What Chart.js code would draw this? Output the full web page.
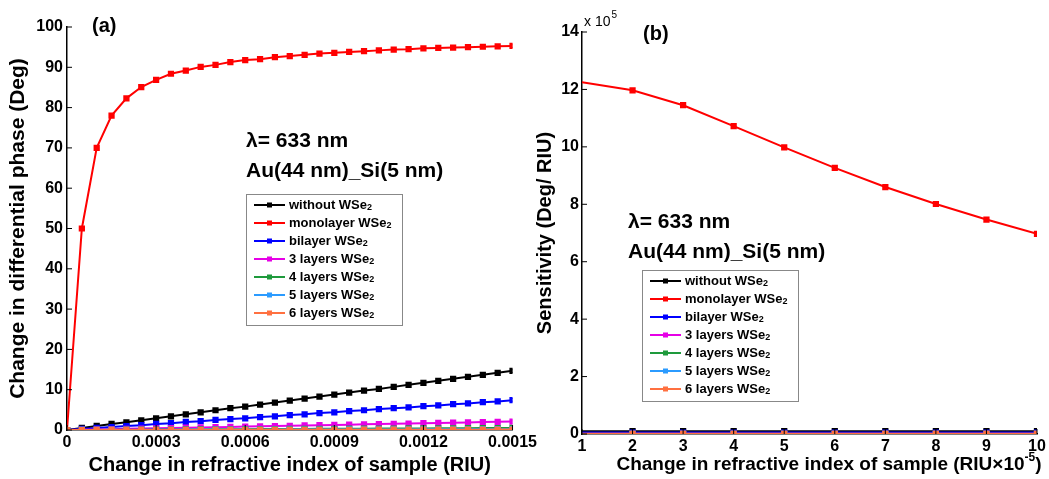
<!DOCTYPE html>
<html>
<head>
<meta charset="utf-8">
<script src="https://cdn.jsdelivr.net/npm/chart.js@4"></script>
<style>
  body { margin: 0; background: #fff; width: 1049px; height: 479px; overflow: hidden; position: relative; }
  .panel { position: absolute; top: 0; height: 479px; }
  #boxA { left: 0; width: 540px; }
  #boxB { left: 520px; width: 529px; }
</style>
</head>
<body>
<div class="panel" id="boxA"><canvas id="phaseChart"></canvas></div>
<div class="panel" id="boxB"><canvas id="sensChart"></canvas></div>
<script>
// ---- data (a): differential phase vs change in RI ----
const deltaN = [0, 0.00005, 0.0001, 0.00015, 0.0002, 0.00025, 0.0003, 0.00035, 0.0004, 0.00045,
  0.0005, 0.00055, 0.0006, 0.00065, 0.0007, 0.00075, 0.0008, 0.00085, 0.0009, 0.00095,
  0.001, 0.00105, 0.0011, 0.00115, 0.0012, 0.00125, 0.0013, 0.00135, 0.0014, 0.00145, 0.0015];

const phaseWithout = [0, 0.5, 1.0, 1.5, 1.9, 2.4, 2.9, 3.4, 3.9, 4.4, 4.9, 5.4, 5.8, 6.3, 6.8, 7.3,
  7.8, 8.3, 8.8, 9.3, 9.8, 10.2, 10.7, 11.2, 11.7, 12.2, 12.7, 13.2, 13.7, 14.2, 14.7];
const phaseMono = [0, 50, 70, 78, 82.3, 85.1, 86.9, 88.4, 89.2, 90.1, 90.6, 91.3, 91.8, 92.0, 92.5, 92.8,
  93.1, 93.4, 93.6, 93.8, 94.0, 94.2, 94.4, 94.5, 94.7, 94.8, 94.9, 95.0, 95.1, 95.2, 95.3];
const phaseBi = [0, 0.25, 0.5, 0.74, 0.98, 1.2, 1.5, 1.7, 2.0, 2.2, 2.5, 2.7, 2.9, 3.2, 3.4, 3.7,
  3.9, 4.2, 4.4, 4.7, 4.9, 5.2, 5.4, 5.6, 5.9, 6.1, 6.4, 6.6, 6.9, 7.1, 7.4];
const phase3 = [0, 0.07, 0.14, 0.21, 0.28, 0.35, 0.42, 0.49, 0.56, 0.63, 0.7, 0.77, 0.84, 0.91, 0.98, 1.05,
  1.12, 1.19, 1.26, 1.33, 1.4, 1.47, 1.54, 1.61, 1.68, 1.75, 1.82, 1.89, 1.96, 2.03, 2.1];
const phase4 = [0, 0.02, 0.03, 0.05, 0.07, 0.08, 0.1, 0.12, 0.13, 0.15, 0.17, 0.18, 0.2, 0.22, 0.23, 0.25,
  0.27, 0.28, 0.3, 0.32, 0.33, 0.35, 0.37, 0.38, 0.4, 0.42, 0.43, 0.45, 0.47, 0.48, 0.5];
const phase5 = [0, 0.01, 0.01, 0.02, 0.03, 0.03, 0.04, 0.05, 0.05, 0.06, 0.07, 0.07, 0.08, 0.09, 0.09, 0.1,
  0.11, 0.11, 0.12, 0.13, 0.13, 0.14, 0.15, 0.15, 0.16, 0.17, 0.17, 0.18, 0.19, 0.19, 0.2];
const phase6 = [0, 0, 0.01, 0.01, 0.01, 0.02, 0.02, 0.02, 0.03, 0.03, 0.03, 0.04, 0.04, 0.04, 0.05, 0.05,
  0.05, 0.06, 0.06, 0.06, 0.07, 0.07, 0.07, 0.08, 0.08, 0.08, 0.09, 0.09, 0.09, 0.1, 0.1];

// ---- data (b): sensitivity (x 10^5 Deg/RIU) vs change in RI (x 10^-5) ----
const deltaNb = [1, 2, 3, 4, 5, 6, 7, 8, 9, 10];
const sensWithout = [0.099, 0.099, 0.098, 0.098, 0.098, 0.098, 0.098, 0.098, 0.098, 0.098];
const sensMono = [12.25, 11.97, 11.45, 10.72, 9.98, 9.27, 8.60, 8.01, 7.47, 6.97];
const sensBi = [0.05, 0.05, 0.05, 0.05, 0.049, 0.049, 0.049, 0.049, 0.049, 0.049];
const sens3 = [0.014, 0.014, 0.014, 0.014, 0.014, 0.014, 0.014, 0.014, 0.014, 0.014];
const sens4 = [0.005, 0.005, 0.005, 0.005, 0.005, 0.005, 0.005, 0.005, 0.005, 0.005];
const sens5 = [0.002, 0.002, 0.002, 0.002, 0.002, 0.002, 0.002, 0.002, 0.002, 0.002];
const sens6 = [0.001, 0.001, 0.001, 0.001, 0.001, 0.001, 0.001, 0.001, 0.001, 0.001];

const seriesNames = ["without WSe2", "monolayer WSe2", "bilayer WSe2", "3 layers WSe2",
  "4 layers WSe2", "5 layers WSe2", "6 layers WSe2"];
const seriesColors = ["#000000", "#ff0000", "#0000ff", "#e600e6", "#1e9a3c", "#2b9bff", "#ff7040"];

const xTicksA = [0, 0.0003, 0.0006, 0.0009, 0.0012, 0.0015];

const FONT = "'Liberation Sans', Arial, sans-serif";

function makeSet(i, xs, ys, skipFirst) {
  return {
    label: seriesNames[i],
    data: xs.map((x, k) => ({ x: x, y: ys[k] })),
    borderColor: seriesColors[i],
    backgroundColor: seriesColors[i],
    borderWidth: 2,
    pointStyle: "rect",
    pointRadius: skipFirst ? (c) => (c.dataIndex === 0 ? 0 : 3) : 3,
    pointHoverRadius: 3,
    tension: 0,
    order: -i,
  };
}

// rich text: list of parts [{text, size, dy}], drawn from x (or centred on x)
function drawParts(c, parts, x, y, centred) {
  let total = 0;
  parts.forEach((p) => {
    c.font = "bold " + p.size + "px " + FONT;
    p.w = c.measureText(p.text).width;
    total += p.w;
  });
  let px = centred ? x - total / 2 : x;
  parts.forEach((p) => {
    c.font = "bold " + p.size + "px " + FONT;
    c.fillText(p.text, px, y + (p.dy || 0));
    px += p.w;
  });
}

// draws inward ticks, text notes and the boxed legend
const panelDecor = {
  id: "panelDecor",
  afterDraw(chart, args, opts) {
    const c = chart.ctx;
    const area = chart.chartArea;
    const xs = chart.scales.x, ys = chart.scales.y;
    c.save();
    c.strokeStyle = "#000";
    c.lineWidth = 1;
    xs.ticks.forEach((t) => {
      const px = xs.getPixelForValue(t.value);
      c.beginPath(); c.moveTo(px, area.bottom); c.lineTo(px, area.bottom - 5); c.stroke();
    });
    ys.ticks.forEach((t) => {
      const py = ys.getPixelForValue(t.value);
      c.beginPath(); c.moveTo(area.left, py); c.lineTo(area.left + 5, py); c.stroke();
    });

    // notes
    c.fillStyle = "#000";
    c.textBaseline = "middle";
    c.textAlign = "left";
    opts.notes.forEach((n) => {
      c.font = (n.weight || "bold") + " " + n.size + "px " + FONT;
      c.fillText(n.text, n.x, n.y);
      if (n.sup) {
        const w = c.measureText(n.text).width;
        c.font = (n.weight || "bold") + " " + Math.round(n.size * 0.7) + "px " + FONT;
        c.fillText(n.sup, n.x + w + 1, n.y - n.size * 0.45);
      }
    });
    if (opts.xTitle) {
      drawParts(c, opts.xTitle.parts, opts.xTitle.cx, opts.xTitle.y, true);
    }

    // legend
    const L = opts.legend;
    c.fillStyle = "#fff";
    c.fillRect(L.x, L.y, L.w, L.h);
    c.strokeStyle = "#888";
    c.strokeRect(L.x + 0.5, L.y + 0.5, L.w, L.h);
    chart.data.datasets.forEach((ds, i) => {
      const yy = L.y + 11 + i * 18;
      c.strokeStyle = ds.borderColor;
      c.lineWidth = 2;
      c.beginPath(); c.moveTo(L.x + 8, yy); c.lineTo(L.x + 39, yy); c.stroke();
      c.fillStyle = ds.borderColor;
      c.fillRect(L.x + 21, yy - 2.5, 5, 5);
      c.fillStyle = "#000";
      let txt = ds.label, sub = "";
      if (txt.endsWith("WSe2")) { txt = txt.slice(0, -1); sub = "2"; }
      drawParts(c, [{ text: txt, size: 13 }, { text: sub, size: 9, dy: 3 }], L.x + 43, yy, false);
    });
    c.restore();
  },
};

function axisTitle(text, size) {
  return { display: true, text: text, color: "#000", font: { family: FONT, size: size, weight: "bold" }, padding: 2 };
}
function tickFont() {
  return { family: FONT, size: 16, weight: "bold" };
}

const chartA = new Chart(document.getElementById("phaseChart").getContext("2d"), {
  type: "line",
  data: {
    datasets: [
      makeSet(0, deltaN, phaseWithout),
      makeSet(1, deltaN, phaseMono),
      makeSet(2, deltaN, phaseBi),
      makeSet(3, deltaN, phase3),
      makeSet(4, deltaN, phase4),
      makeSet(5, deltaN, phase5),
      makeSet(6, deltaN, phase6),
    ],
  },
  options: {
    responsive: true,
    maintainAspectRatio: false,
    animation: false,
    layout: { padding: { top: 27, right: 16, bottom: 0, left: 4 } },
    plugins: {
      legend: { display: false },
      tooltip: { enabled: false },
      panelDecor: {
        notes: [
          { text: "(a)", x: 92, y: 26, size: 20 },
          { text: "λ= 633 nm", x: 246, y: 141, size: 21 },
          { text: "Au(44 nm)_Si(5 nm)", x: 246, y: 171, size: 21 },
        ],
        legend: { x: 246, y: 194, w: 156, h: 131 },
      },
    },
    scales: {
      x: {
        type: "linear",
        min: 0,
        max: 0.0015,
        afterBuildTicks: (s) => { s.ticks = xTicksA.map((v) => ({ value: v })); },
        ticks: {
          color: "#000",
          font: tickFont(),
          padding: 3,
          maxRotation: 0,
          callback: (v) => (v === 0 ? "0" : v.toFixed(4)),
        },
        grid: { display: false, drawTicks: false },
        border: { display: true, color: "#000", width: 1.5 },
        title: axisTitle("Change in refractive index of sample (RIU)", 20),
        afterFit: (s) => { s.height = 49; },
      },
      y: {
        min: 0,
        max: 100,
        ticks: { stepSize: 10, color: "#000", font: tickFont(), padding: 4 },
        grid: { display: false, drawTicks: false },
        border: { display: true, color: "#000", width: 1.5 },
        title: axisTitle("Change in differential phase (Deg)", 21),
        afterFit: (s) => { s.width = 63; },
      },
    },
  },
  plugins: [panelDecor],
});

const chartB = new Chart(document.getElementById("sensChart").getContext("2d"), {
  type: "line",
  data: {
    datasets: [
      makeSet(0, deltaNb, sensWithout, true),
      makeSet(1, deltaNb, sensMono, true),
      makeSet(2, deltaNb, sensBi, true),
      makeSet(3, deltaNb, sens3, true),
      makeSet(4, deltaNb, sens4, true),
      makeSet(5, deltaNb, sens5, true),
      makeSet(6, deltaNb, sens6, true),
    ],
  },
  options: {
    responsive: true,
    maintainAspectRatio: false,
    animation: false,
    layout: { padding: { top: 32, right: 12, bottom: 0, left: 11 } },
    plugins: {
      legend: { display: false },
      tooltip: { enabled: false },
      panelDecor: {
        notes: [
          { text: "x 10", sup: "5", x: 64, y: 22, size: 14, weight: "normal" },
          { text: "(b)", x: 123, y: 34, size: 20 },
          { text: "λ= 633 nm", x: 108, y: 222, size: 21 },
          { text: "Au(44 nm)_Si(5 nm)", x: 108, y: 252, size: 21 },
        ],
        xTitle: {
          cx: 309,
          y: 465,
          parts: [
            { text: "Change in refractive index of sample (RIU×10", size: 19 },
            { text: "-5", size: 12, dy: -7 },
            { text: ")", size: 19 },
          ],
        },
        legend: { x: 122, y: 270, w: 156, h: 131 },
      },
    },
    scales: {
      x: {
        type: "linear",
        min: 1,
        max: 10,
        ticks: { stepSize: 1, color: "#000", font: tickFont(), padding: 3, maxRotation: 0 },
        grid: { display: false, drawTicks: false },
        border: { display: true, color: "#000", width: 1.5 },
        afterFit: (s) => { s.height = 45; },
      },
      y: {
        min: 0,
        max: 14,
        ticks: { stepSize: 2, color: "#000", font: tickFont(), padding: 3 },
        grid: { display: false, drawTicks: false },
        border: { display: true, color: "#000", width: 1.5 },
        title: axisTitle("Sensitivity (Deg/ RIU)", 20),
        afterFit: (s) => { s.width = 51; },
      },
    },
  },
  plugins: [panelDecor],
});
</script>
</body>
</html>
